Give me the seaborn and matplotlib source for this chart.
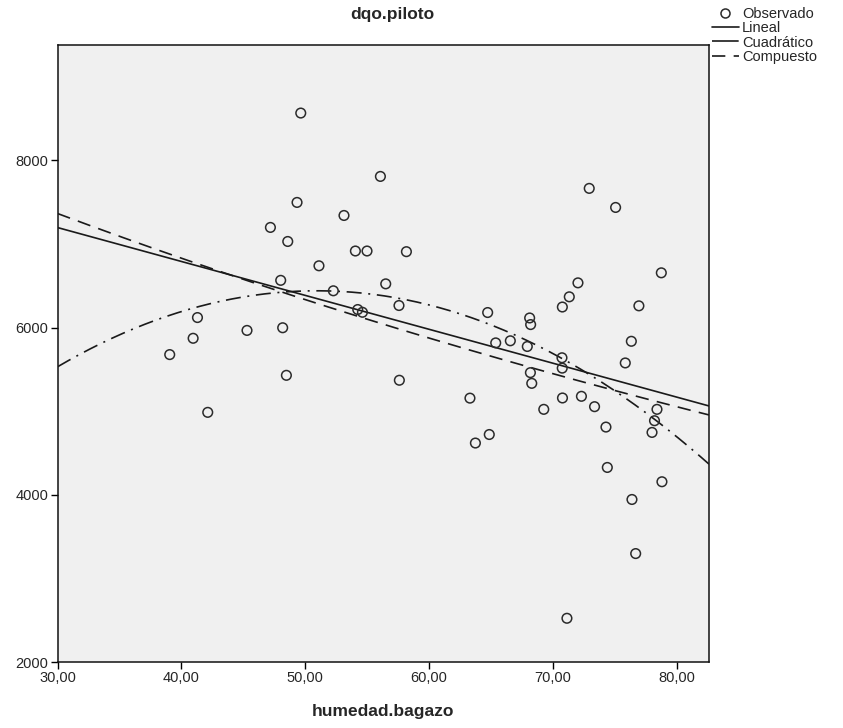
import numpy as np
import pandas as pd
import matplotlib
matplotlib.use("Agg")
import matplotlib.pyplot as plt
from matplotlib.lines import Line2D
from matplotlib.ticker import FuncFormatter
import seaborn as sns

# ---- data ----
humedad_bagazo = [39.06, 40.95, 41.30, 42.13, 45.30, 47.19, 48.02, 48.18, 48.48, 48.59,
                  49.34, 49.64, 51.11, 52.27, 53.13, 54.05, 54.24, 54.62, 54.99, 56.07,
                  56.50, 57.57, 57.60, 58.17, 63.30, 63.74, 64.73, 64.86, 65.38, 66.56,
                  67.93, 68.12, 68.20, 68.18, 68.29, 69.26, 70.73, 70.76, 70.75, 70.77,
                  71.13, 71.32, 72.02, 72.30, 72.93, 73.36, 74.28, 74.39, 75.06, 75.84,
                  76.33, 76.38, 76.68, 76.94, 78.00, 78.20, 78.40, 78.75, 78.80]
dqo_piloto = [5677, 5872, 6120, 4986, 5966, 7198, 6565, 5998, 5429, 7030,
              7497, 8566, 6739, 6440, 7341, 6916, 6216, 6183, 6916, 7808,
              6523, 6264, 5370, 6908, 5156, 4619, 6180, 4721, 5817, 5842,
              5774, 6115, 6036, 5461, 5333, 5022, 5639, 6246, 5515, 5158,
              2523, 6368, 6535, 5178, 7665, 5054, 4810, 4327, 7437, 5577,
              5836, 3944, 3297, 6260, 4746, 4886, 5022, 6655, 4156]
x_ticks = [30, 40, 50, 60, 70, 80]
y_ticks = [2000, 4000, 6000, 8000]
legend_labels = ["Observado", "Lineal", "Cuadrático", "Compuesto"]
title_text = "dqo.piloto"
xlabel_text = "humedad.bagazo"

x = np.array(humedad_bagazo, dtype=float)
y = np.array(dqo_piloto, dtype=float)
df = pd.DataFrame({"humedad.bagazo": x, "dqo.piloto": y})

# ---- model fits (as in SPSS curve estimation) ----
XMIN, XMAX = 30.0, 82.6
YMIN, YMAX = 2000.0, 9380.0
xs = np.linspace(XMIN, XMAX, 300)
lin = np.polyfit(x, y, 1)
quad = np.polyfit(x, y, 2)
comp = np.polyfit(x, np.log(y), 1)
fits = pd.DataFrame({
    "x": xs,
    "Lineal": np.polyval(lin, xs),
    "Cuadrático": np.polyval(quad, xs),
    "Compuesto": np.exp(np.polyval(comp, xs)),
})

sns.set_style("white")
plt.rcParams["font.family"] = ["Liberation Sans", "DejaVu Sans"]

fig = plt.figure(figsize=(8.43, 7.28), dpi=100)
ax = fig.add_axes([57.5 / 843, 1 - 662 / 728, (709 - 57.5) / 843, (662 - 45) / 728])
ax.set_facecolor("#f0f0f0")

lw = 1.2
sns.lineplot(data=fits, x="x", y="Lineal", ax=ax, color="#1a1a1a", lw=lw, zorder=3)
sns.lineplot(data=fits, x="x", y="Cuadrático", ax=ax, color="#1a1a1a", lw=lw, zorder=3)
ax.lines[-1].set_dashes([9, 4, 1.2, 4])
sns.lineplot(data=fits, x="x", y="Compuesto", ax=ax, color="#1a1a1a", lw=lw, zorder=3)
ax.lines[-1].set_dashes([8, 5])

sns.scatterplot(data=df, x="humedad.bagazo", y="dqo.piloto", ax=ax, marker="o",
                s=48, facecolor="none", edgecolor="#2b2b2b", linewidth=1.1, zorder=4)

ax.set_xlim(XMIN, XMAX)
ax.set_ylim(YMIN, YMAX)
ax.set_xticks(x_ticks)
ax.set_yticks(y_ticks)
ax.xaxis.set_major_formatter(FuncFormatter(lambda v, p: f"{v:.2f}".replace(".", ",")))
ax.yaxis.set_major_formatter(FuncFormatter(lambda v, p: f"{int(v)}"))
ax.tick_params(axis="both", direction="out", length=5, width=1, color="black",
               labelsize=10.5, pad=1.5, bottom=True, left=True)
for sp in ax.spines.values():
    sp.set_visible(True)
    sp.set_color("#111111")
    sp.set_linewidth(1.1)

ax.set_xlabel(xlabel_text, fontsize=12.5, fontweight="bold", labelpad=14)
ax.set_ylabel("")
fig.text(392 / 843, 1 - 14 / 728, title_text, fontsize=12.5, fontweight="bold",
         ha="center", va="center")

handles = [
    Line2D([], [], marker="o", linestyle="none", markerfacecolor="none",
           markeredgecolor="#2b2b2b", markersize=6.5, markeredgewidth=1.1),
    Line2D([], [], color="#1a1a1a", lw=lw),
    Line2D([], [], color="#1a1a1a", lw=lw, dashes=[16, 2, 1, 2]),
    Line2D([], [], color="#1a1a1a", lw=lw, dashes=[8, 5]),
]
leg = fig.legend(handles, legend_labels, loc="upper left",
                 bbox_to_anchor=(712 / 843, 1 - 7 / 728), frameon=False,
                 fontsize=10.5, handlelength=1.85, handletextpad=0.2,
                 labelspacing=0.02, borderaxespad=0, borderpad=0)

fig.savefig("out.png", dpi=100, facecolor="white")
